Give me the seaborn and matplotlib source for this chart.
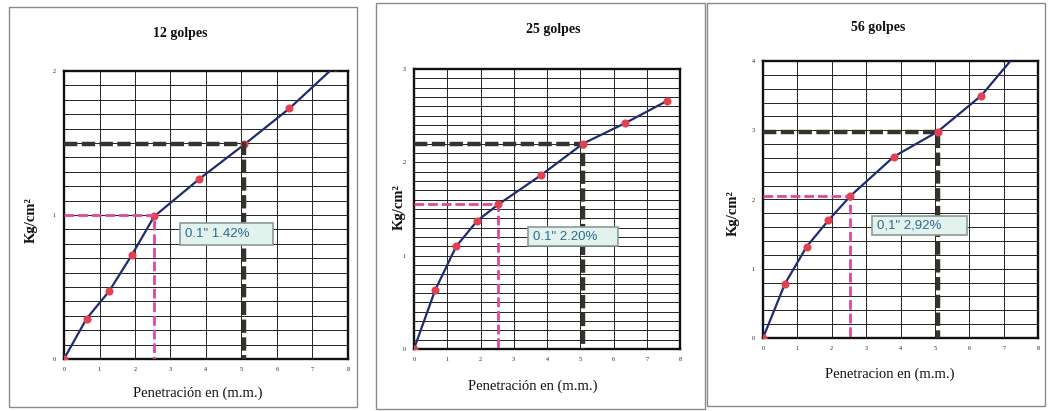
import matplotlib
matplotlib.use("Agg")
import matplotlib.pyplot as plt
from matplotlib.ticker import MultipleLocator
from matplotlib.patches import Rectangle
import seaborn as sns
import pandas as pd

# ---------------- data ----------------
penetracion = [0, 0.635, 1.27, 1.905, 2.54, 3.81, 5.08, 6.35, 7.62]
carga_12 = [0, 0.28, 0.47, 0.72, 0.99, 1.25, 1.49, 1.74, 2.03]
carga_25 = [0, 0.63, 1.10, 1.375, 1.55, 1.86, 2.20, 2.42, 2.66]
carga_56 = [0, 0.78, 1.32, 1.70, 2.05, 2.62, 2.98, 3.50, 4.25]

titles = ["12 golpes", "25 golpes", "56 golpes"]
xlabels = ["Penetración en (m.m.)", "Penetración en (m.m.)", "Penetracion en (m.m.)"]
ylabel = "Kg/cm²"
annotations = ['0.1" 1.42%', '0.1" 2.20%', '0,1" 2,92%']
y_max = [2, 3, 4]
y_minor = [0.1, 0.1, 0.2]
x_ref_01 = 2.54
x_ref_02 = 5.08
y_ref_01 = [1.00, 1.55, 2.05]
y_ref_02 = [1.49, 2.20, 2.98]

# ---------------- layout ----------------
W, H = 1049, 411
sns.set_theme(style="white")
plt.rcParams["font.family"] = ["Liberation Serif", "DejaVu Serif"]

fig = plt.figure(figsize=(W / 100, H / 100), dpi=100)
fig.patch.set_facecolor("white")

# plot areas in pixels: left, right, top, bottom
boxes = [(64, 348, 71, 359), (414, 680, 69, 349), (763, 1038, 61, 338)]
# chart-area borders in pixels: left, top, right, bottom
frames = [(9, 7, 357, 407), (376, 3, 705, 409), (707, 3, 1045, 406)]
title_pos = [(180, 33), (553, 30), (878, 27)]
xlabel_pos = [(198, 393), (533, 386), (890, 374)]
ylabel_pos = [(31, 220), (399, 207), (733, 213)]
# annotation boxes in pixels: left, top, right, bottom
ann_boxes = [(180, 223, 273, 245), (528, 227, 618, 246), (872, 216, 967, 235)]

for fl, ft, fr, fb in frames:
    fig.add_artist(Rectangle((fl / W, 1 - fb / H), (fr - fl) / W, (fb - ft) / H,
                             transform=fig.transFigure, fill=False,
                             edgecolor="#8a8a8a", linewidth=1.0))

series = [carga_12, carga_25, carga_56]
for i in range(3):
    l, r, t, b = boxes[i]
    ax = fig.add_axes([l / W, 1 - b / H, (r - l) / W, (b - t) / H])
    ax.set_facecolor("white")
    df = pd.DataFrame({"x": penetracion, "y": series[i]})

    # reference dashed lines
    dz = 5 if i == 0 else 3
    ax.plot([0, x_ref_01, x_ref_01], [y_ref_01[i], y_ref_01[i], 0],
            color="#e0489c", lw=2.0, ls=(0, (3.5, 1.4)), zorder=dz)
    ax.plot([0, x_ref_02, x_ref_02], [y_ref_02[i], y_ref_02[i], 0],
            color="#34342a", lw=3.2, ls=(0, (3.0, 1.0)), zorder=dz)

    sns.lineplot(data=df, x="x", y="y", ax=ax, color="#1f2c6e", lw=1.6,
                 zorder=4, sort=False)
    sns.scatterplot(data=df, x="x", y="y", ax=ax, color="#e3414f", s=34,
                    edgecolor="#e3414f", linewidth=0, zorder=4.5)

    ax.set_xlim(0, 8)
    ax.set_ylim(0, y_max[i])
    ax.xaxis.set_major_locator(MultipleLocator(1))
    ax.yaxis.set_major_locator(MultipleLocator(1))
    ax.xaxis.set_minor_locator(MultipleLocator(1))
    ax.yaxis.set_minor_locator(MultipleLocator(y_minor[i]))
    ax.grid(True, which="both", color="#222222", lw=0.7)
    ax.set_axisbelow(True)
    ax.tick_params(axis="both", which="both", length=0, labelsize=4.5,
                   pad=6, colors="#222222")
    for s in ax.spines.values():
        s.set_visible(True)
        s.set_color("#111111")
        s.set_linewidth(1.7)
    ax.set_xlabel("")
    ax.set_ylabel("")

    bl, bt, br, bb = ann_boxes[i]
    fig.add_artist(Rectangle((bl / W, 1 - bb / H), (br - bl) / W, (bb - bt) / H,
                             transform=fig.transFigure, facecolor="#e2f2ec",
                             edgecolor="#8a9a96", linewidth=1.2, zorder=6))
    fig.text((bl + 5) / W, 1 - (bt + bb) / 2 / H, annotations[i], ha="left",
             va="center", fontsize=9.5, color="#2d6a92",
             family=["Liberation Sans", "DejaVu Sans"], zorder=7)

    fig.text(title_pos[i][0] / W, 1 - title_pos[i][1] / H, titles[i],
             ha="center", va="center", fontsize=10, fontweight="bold", color="#111111")
    fig.text(xlabel_pos[i][0] / W, 1 - xlabel_pos[i][1] / H, xlabels[i],
             ha="center", va="center", fontsize=10.5, color="#111111")
    fig.text(ylabel_pos[i][0] / W, 1 - ylabel_pos[i][1] / H, ylabel,
             ha="center", va="center", fontsize=10.5, rotation=90,
             fontweight="bold", color="#111111")

fig.savefig("out.png", dpi=100, facecolor="white")
